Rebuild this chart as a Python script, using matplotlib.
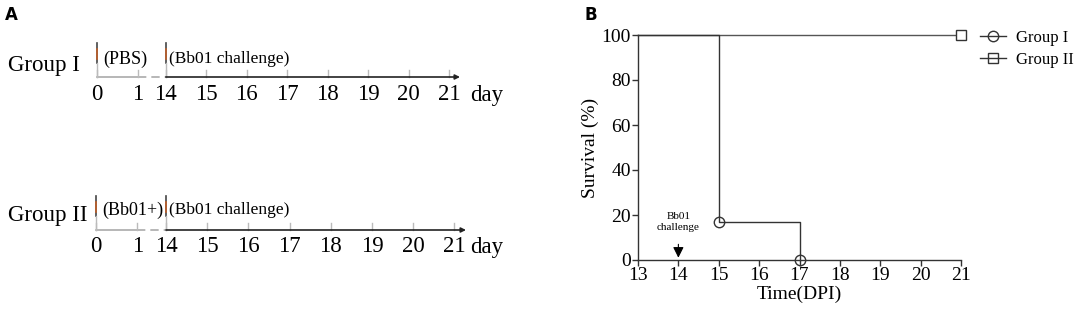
import numpy as np
import matplotlib
matplotlib.use("Agg")
import matplotlib.pyplot as plt
from matplotlib.lines import Line2D

plt.rcParams["font.family"] = ["Liberation Serif", "DejaVu Serif"]

# Panel A: timeline days
DAYS = [0, 1, 14, 15, 16, 17, 18, 19, 20, 21]
DAY_SLOTS = [0, 1, 1.7, 2.7, 3.7, 4.7, 5.7, 6.7, 7.7, 8.7]
GROUP_NAMES = ["Group I", "Group II"]
PRIME_LABELS = ["(PBS)", "(Bb01+)"]
CHALLENGE_LABEL = "(Bb01 challenge)"

# Panel B: survival curves
G1_TIME = [13, 15, 15, 17, 17]
G1_SURV = [100, 100, 16.7, 16.7, 0]
G1_MARK_T = [15, 17]
G1_MARK_S = [16.7, 0]
G2_TIME = [13, 21]
G2_SURV = [100, 100]
X_TICKS = list(range(13, 22))
Y_TICKS = [0, 20, 40, 60, 80, 100]

fig = plt.figure(figsize=(10.84, 3.10), dpi=100)

# ---------------- Panel A ----------------
axA = fig.add_axes([0, 0, 540 / 1084, 1])
axA.set_xlim(0, 540)
axA.set_ylim(310, 0)
axA.axis("off")

rows = [dict(y=77, x0=97, step=40.5, end=460, ty=59, gy=66, ly=95),
        dict(y=230, x0=96, step=41.2, end=466, ty=210, gy=215, ly=247)]

for r, name, prime in zip(rows, GROUP_NAMES, PRIME_LABELS):
    xs = [r["x0"] + s * r["step"] for s in DAY_SLOTS]
    y = r["y"]
    # base line: 0-1 solid gray, 1-14 dashed, 14 onwards black with arrow
    axA.plot([xs[0], xs[1]], [y, y], color="#aaaaaa", lw=1.2)
    axA.plot([xs[1], xs[2]], [y, y], color="#aaaaaa", lw=1.2, ls=(0, (5, 3)))
    axA.annotate("", xy=(r["end"], y), xytext=(xs[2], y),
                 arrowprops=dict(arrowstyle="-|>", color="#222222", lw=1.2,
                                 mutation_scale=7, shrinkA=0, shrinkB=0))
    for d, x in zip(DAYS, xs):
        axA.plot([x, x], [y, y - 7], color="#bbbbbb", lw=1.0)
        axA.text(x, r["ly"], str(d), ha="center", va="center", fontsize=16.5)
    # injection marks at day 0 and day 14
    for x in (xs[0], xs[2]):
        axA.plot([x, x], [y - 34, y - 14], color="#444444", lw=1.2)
        axA.plot([x, x], [y - 28, y - 18], color="#c0602a", lw=1.2)
        axA.plot([x, x], [y - 14, y], color="#bbbbbb", lw=1.0)
    axA.text(470, r["ly"], "day", ha="left", va="center", fontsize=16.5)
    axA.text(xs[0] + 6, r["ty"], prime, ha="left", va="center", fontsize=13)
    axA.text(xs[2] + 3, r["ty"], CHALLENGE_LABEL, ha="left", va="center", fontsize=12.5)
    axA.text(8, r["gy"], name, ha="left", va="center", fontsize=16.5)

fig.text(5 / 1084, 1 - 15 / 310, "A", fontsize=12, fontweight="bold",
         family="DejaVu Sans", ha="left", va="center")
fig.text(585 / 1084, 1 - 15 / 310, "B", fontsize=12, fontweight="bold",
         family="DejaVu Sans", ha="left", va="center")

# ---------------- Panel B ----------------
axB = fig.add_axes([638 / 1084, 50 / 310, 323 / 1084, 225 / 310])
line_col = "#333333"
axB.plot(G2_TIME, G2_SURV, color="#555555", lw=1.0, clip_on=False)
axB.plot(G2_TIME[-1], G2_SURV[-1], marker="s", ms=6.5, mfc="white",
         mec=line_col, mew=1.0, clip_on=False)
axB.plot(G1_TIME, G1_SURV, color=line_col, lw=1.0, clip_on=False)
axB.plot(G1_MARK_T, G1_MARK_S, ls="none", marker="o", ms=7.5, mfc="none",
         mec=line_col, mew=1.0, clip_on=False)

axB.set_xlim(13, 21)
axB.set_ylim(0, 100)
axB.set_xticks(X_TICKS)
axB.set_yticks(Y_TICKS)
axB.tick_params(labelsize=14, length=4, width=1.0, color=line_col, pad=1)
for s in ("top", "right"):
    axB.spines[s].set_visible(False)
for s in ("left", "bottom"):
    axB.spines[s].set_color(line_col)
    axB.spines[s].set_linewidth(1.0)
axB.set_xlabel("Time(DPI)", fontsize=14, labelpad=1)
axB.set_ylabel("Survival (%)", fontsize=14, labelpad=2)

axB.annotate("Bb01\nchallenge", xy=(14, 1), xytext=(14, 17),
             ha="center", va="center", fontsize=8, linespacing=1.3,
             arrowprops=dict(arrowstyle="-|>", color="black", lw=0.8,
                             mutation_scale=16, shrinkA=7, shrinkB=0))

handles = [Line2D([], [], color=line_col, lw=1.0, marker="o", ms=7.5, mfc="none", mec=line_col),
           Line2D([], [], color=line_col, lw=1.0, marker="s", ms=6.5, mfc="none", mec=line_col)]
fig.legend(handles, GROUP_NAMES, loc="upper left", bbox_to_anchor=(973 / 1084, 1 - 23 / 310),
           frameon=False, fontsize=12, handlelength=1.6, handletextpad=0.6,
           labelspacing=0.35, borderaxespad=0)

fig.savefig("out.png", dpi=100)
